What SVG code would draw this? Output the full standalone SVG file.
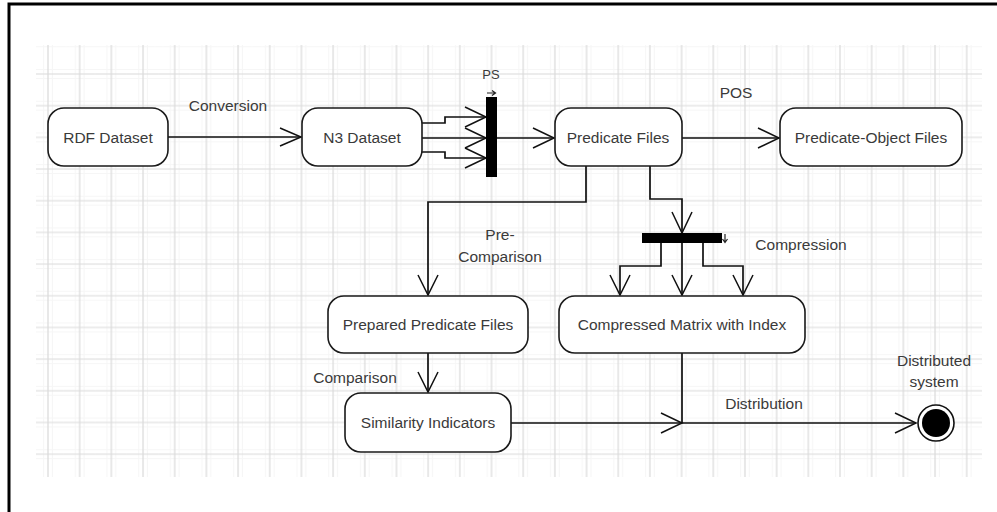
<svg xmlns="http://www.w3.org/2000/svg" width="997" height="512" viewBox="0 0 997 512">
  <style>
    .node rect { fill: #ffffff; stroke: #1a1a1a; stroke-width: 1.6; }
    .node text, .label { font-family: "Liberation Sans", Arial, sans-serif; font-size: 15.5px; fill: #3a3a3a; text-anchor: middle; }
    .wire { fill: none; stroke: #111111; stroke-width: 1.7; }
    .head { fill: none; stroke: #111111; stroke-width: 1.5; }
    .bar { fill: #000000; }
  </style>
  <defs>
    <pattern id="grid" patternUnits="userSpaceOnUse" x="32.16" y="58.16" width="31.68" height="31.68">
      <path d="M11.5 0 V31.68 M0 11.5 H31.68 M20.2 0 V31.68 M0 20.2 H31.68" stroke="#f6f6f6" stroke-width="1" fill="none"/>
      <path d="M15.84 0 V31.68 M0 15.84 H31.68" stroke="#dadada" stroke-width="1.2" fill="none"/>
    </pattern>
  </defs>

  <rect x="0" y="0" width="997" height="512" fill="#ffffff"/>
  <!-- frame -->
  <path d="M9 512 V4 H997" fill="none" stroke="#000000" stroke-width="3"/>

  <!-- background grid -->
  <rect x="36" y="45" width="946" height="432" fill="url(#grid)"/>

  <!-- connectors -->
  <g id="connectors">
    <!-- RDF -> N3 -->
    <path class="wire" d="M168 137 H301"/>
    <path class="head" d="M280 128 L301 137 L280 146"/>
    <!-- N3 -> PS fork -->
    <path class="wire" d="M422 123 H445 V117 H486"/>
    <path class="wire" d="M422 138 H486"/>
    <path class="wire" d="M422 152 H445 V158 H486"/>
    <path class="head" d="M465 107 L486 117 L465 127"/>
    <path class="head" d="M465 128 L486 138 L465 148"/>
    <path class="head" d="M465 148 L486 158 L465 168"/>
    <!-- PS fork -> Predicate Files -->
    <path class="wire" d="M497 138 H554"/>
    <path class="head" d="M533 128 L554 138 L533 148"/>
    <!-- Predicate Files -> Predicate-Object Files -->
    <path class="wire" d="M682 138 H779"/>
    <path class="head" d="M758 128 L779 138 L758 148"/>
    <!-- Predicate Files -> Prepared Predicate Files -->
    <path class="wire" d="M586 166 V202 H428 V295"/>
    <path class="head" d="M418 275 L428 295 L438 275"/>
    <!-- Predicate Files -> compression fork -->
    <path class="wire" d="M650 166 V199 H682 V233"/>
    <path class="head" d="M672 212 L682 233 L692 212"/>
    <!-- compression fork -> Compressed Matrix -->
    <path class="wire" d="M661 243 V266 H620 V295"/>
    <path class="wire" d="M682 243 V295"/>
    <path class="wire" d="M703 243 V266 H743 V295"/>
    <path class="head" d="M610 275 L620 295 L630 275"/>
    <path class="head" d="M672 275 L682 295 L692 275"/>
    <path class="head" d="M733 275 L743 295 L753 275"/>
    <!-- Prepared -> Similarity -->
    <path class="wire" d="M428 353 V392"/>
    <path class="head" d="M418 372 L428 392 L438 372"/>
    <!-- Similarity -> merge, Compressed Matrix -> merge, merge -> final -->
    <path class="wire" d="M511 423 H682"/>
    <path class="head" d="M661 413 L682 423 L661 433"/>
    <path class="wire" d="M682 353 V423 H916"/>
    <path class="head" d="M895 413 L916 423 L895 433"/>
  </g>

  <!-- connector labels -->
  <g id="labels">
    <text class="label" x="228" y="111">Conversion</text>
    <text class="label" x="736" y="98">POS</text>
    <text class="label" x="500" y="240">Pre-</text>
    <text class="label" x="500" y="262">Comparison</text>
    <text class="label" x="801" y="250">Compression</text>
    <text class="label" x="355" y="383">Comparison</text>
    <text class="label" x="764" y="409">Distribution</text>
  </g>

  <g id="rdf-dataset" class="node">
    <rect x="48" y="108" width="120" height="58" rx="16"/>
    <text x="108" y="143">RDF Dataset</text>
  </g>

  <g id="n3-dataset" class="node">
    <rect x="302" y="108" width="120" height="58" rx="16"/>
    <text x="362" y="143">N3 Dataset</text>
  </g>

  <g id="ps-fork">
    <rect class="bar" x="486" y="97" width="11" height="80"/>
    <text class="label" x="491" y="79" style="font-size:13px">PS</text>
    <path d="M487 93 H495 M492 90.5 L495.5 93 L492 95.5" fill="none" stroke="#222222" stroke-width="1.2"/>
  </g>

  <g id="predicate-files" class="node">
    <rect x="555" y="108" width="127" height="58" rx="16"/>
    <text x="618" y="143">Predicate Files</text>
  </g>

  <g id="predicate-object-files" class="node">
    <rect x="780" y="108" width="182" height="58" rx="16"/>
    <text x="871" y="143">Predicate-Object Files</text>
  </g>

  <g id="compression-fork">
    <rect class="bar" x="642" y="233" width="80" height="10"/>
    <path d="M725 234 V242 M722.5 239 L725 242.5 L727.5 239" fill="none" stroke="#222222" stroke-width="1.2"/>
  </g>

  <g id="prepared-predicate-files" class="node">
    <rect x="328" y="296" width="200" height="57" rx="16"/>
    <text x="428" y="330">Prepared Predicate Files</text>
  </g>

  <g id="compressed-matrix" class="node">
    <rect x="559" y="296" width="246" height="57" rx="16"/>
    <text x="682" y="330">Compressed Matrix with Index</text>
  </g>

  <g id="similarity-indicators" class="node">
    <rect x="345" y="393" width="166" height="59" rx="16"/>
    <text x="428" y="428">Similarity Indicators</text>
  </g>

  <g id="distributed-system">
    <circle cx="936" cy="423" r="18" fill="#ffffff" stroke="#111111" stroke-width="1.6"/>
    <circle cx="936" cy="423" r="14" fill="#000000"/>
    <text class="label" x="934" y="366">Distributed</text>
    <text class="label" x="934" y="387">system</text>
  </g>
</svg>
